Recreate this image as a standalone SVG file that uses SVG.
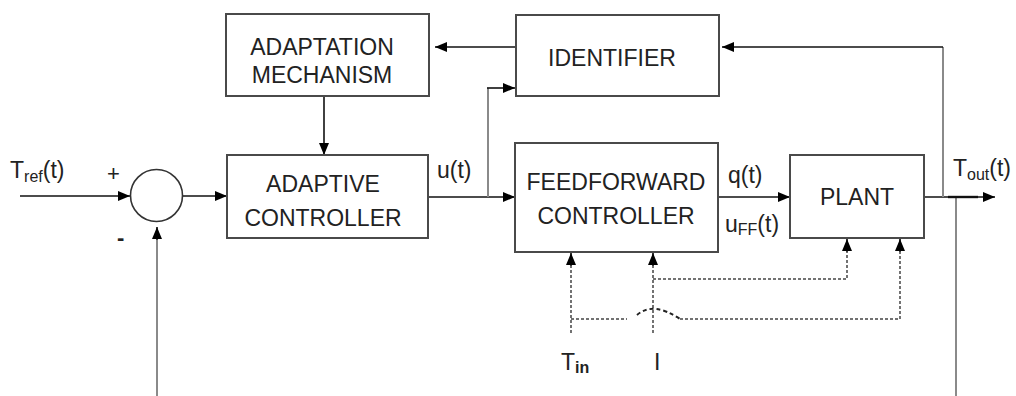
<svg xmlns="http://www.w3.org/2000/svg" width="1016" height="396" viewBox="0 0 1016 396">
  <defs>
    <marker id="ah" viewBox="0 0 12 10" refX="12" refY="5" markerWidth="12" markerHeight="10" markerUnits="userSpaceOnUse" orient="auto">
      <path d="M0,0 L12,5 L0,10 z" fill="#000" stroke="none"/>
    </marker>
    <style>
      .box { fill: #fff; stroke: #4a4a4a; stroke-width: 2; }
      .sum { fill: #fff; stroke: #333; stroke-width: 1.6; }
      .lbl { font-family: "Liberation Sans", Arial, sans-serif; font-size: 23px; fill: #222; }
      .ctr { text-anchor: middle; }
      .sub { font-size: 16px; }
      .wire { fill: none; stroke: #111; stroke-width: 1.6; }
      .grey { fill: none; stroke: #8a8a8a; stroke-width: 2; }
      .dash { fill: none; stroke: #444; stroke-width: 1.5; stroke-dasharray: 3 2; }
    </style>
  </defs>

  <rect width="1016" height="396" fill="#fff"/>

  <!-- connectors -->
  <g id="connectors">
    <!-- reference input into summing junction -->
    <path class="wire" d="M20,196 H130" marker-end="url(#ah)"/>
    <!-- junction to adaptive controller -->
    <path class="wire" d="M183,196 H227" marker-end="url(#ah)"/>
    <!-- measured output fed back to the junction -->
    <path class="grey" d="M956,197 V396"/>
    <path class="grey" d="M157,396 V240"/>
    <path class="wire" d="M157,240 V227" marker-end="url(#ah)"/>
    <!-- adaptation mechanism to adaptive controller -->
    <path class="wire" d="M324,96 V155" marker-end="url(#ah)"/>
    <!-- identifier to adaptation mechanism -->
    <path class="wire" d="M516,47 H435" marker-end="url(#ah)"/>
    <!-- u(t) to feedforward controller, branch to identifier -->
    <path class="wire" d="M428,197 H515" marker-end="url(#ah)"/>
    <path class="grey" d="M488,197 V88"/>
    <path class="wire" d="M487,88 H515" marker-end="url(#ah)"/>
    <!-- q(t) / uFF(t) to plant -->
    <path class="wire" d="M718,197 H790" marker-end="url(#ah)"/>
    <!-- plant output -->
    <path class="wire" d="M924,197 H995" marker-end="url(#ah)"/>
    <path class="wire" style="stroke-width:2.4" d="M948,197 H978"/>
    <!-- output feedback to identifier -->
    <path class="grey" d="M943,197 V47"/>
    <path class="wire" d="M943,47 H722" marker-end="url(#ah)"/>
    <!-- measured disturbances (dashed) -->
    <path class="dash" d="M571,333 V266"/>
    <path class="wire" d="M571,266 V253" marker-end="url(#ah)"/>
    <path class="dash" d="M653,333 V266"/>
    <path class="wire" d="M653,266 V253" marker-end="url(#ah)"/>
    <path class="dash" d="M653,279 H847 V252"/>
    <path class="wire" d="M847,252 V239" marker-end="url(#ah)"/>
    <path class="dash" d="M571,319 H627"/>
    <path class="dash" style="stroke:#222;stroke-width:2;stroke-dasharray:4 3" d="M637,315 Q653,301 680,319"/>
    <path class="dash" d="M680,319 H900 V252"/>
    <path class="wire" d="M900,252 V239" marker-end="url(#ah)"/>
  </g>

  <!-- summing junction -->
  <g id="sum">
    <circle class="sum" cx="156.5" cy="195.5" r="26"/>
    <text class="lbl" x="107" y="181" style="font-size:22px">+</text>
    <text class="lbl" x="117" y="245" style="font-size:22px;font-weight:bold">-</text>
  </g>

  <g id="adaptation">
    <rect class="box" x="226" y="14" width="203" height="82"/>
    <text class="lbl ctr" x="322" y="55">ADAPTATION</text>
    <text class="lbl ctr" x="322" y="83">MECHANISM</text>
  </g>

  <g id="identifier">
    <rect class="box" x="516" y="15" width="203" height="81"/>
    <text class="lbl ctr" x="612" y="66">IDENTIFIER</text>
  </g>

  <g id="adaptive">
    <rect class="box" x="227" y="155" width="201" height="83"/>
    <text class="lbl ctr" x="323" y="192">ADAPTIVE</text>
    <text class="lbl ctr" x="323" y="226">CONTROLLER</text>
  </g>

  <g id="feedforward">
    <rect class="box" x="515" y="143" width="203" height="109"/>
    <text class="lbl ctr" x="616" y="190">FEEDFORWARD</text>
    <text class="lbl ctr" x="616" y="224">CONTROLLER</text>
  </g>

  <g id="plant">
    <rect class="box" x="790" y="155" width="134" height="83"/>
    <text class="lbl ctr" x="857" y="205">PLANT</text>
  </g>

  <!-- signal labels -->
  <g id="labels">
    <text class="lbl" x="10" y="178">T<tspan class="sub" dy="4">ref</tspan><tspan dy="-4">(t)</tspan></text>
    <text class="lbl" x="437" y="178">u(t)</text>
    <text class="lbl" x="728" y="183">q(t)</text>
    <text class="lbl" x="725" y="232">u<tspan class="sub" dy="3">FF</tspan><tspan dy="-3">(t)</tspan></text>
    <text class="lbl" x="953" y="176">T<tspan class="sub" dy="4">out</tspan><tspan dy="-4">(t)</tspan></text>
    <text class="lbl" x="561" y="370">T<tspan class="sub" dy="3" style="font-weight:bold">in</tspan></text>
    <text class="lbl" x="654" y="370">I</text>
  </g>
</svg>
